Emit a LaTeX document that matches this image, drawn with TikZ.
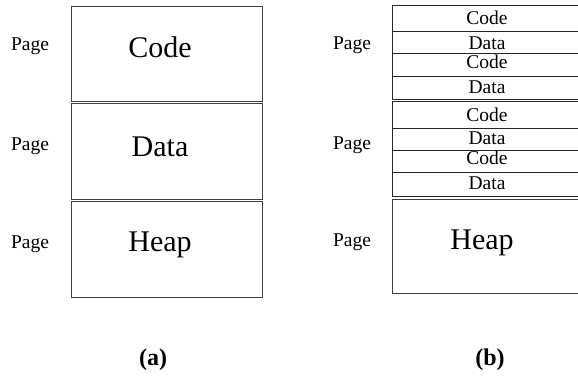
\documentclass[tikz,border=0pt]{standalone}
\usepackage{fontspec}
\setmainfont{Liberation Serif}
\tikzset{
  pagebox/.style={draw=black!75, line width=1.1pt, inner sep=0pt, anchor=north west},
  cellbox/.style={draw=black!85, line width=0.9pt, inner sep=0pt, anchor=north west},
  bigtxt/.style={font=\fontsize{30}{30}\selectfont, inner sep=0pt},
  smalltxt/.style={font=\fontsize{19.5}{19.5}\selectfont, inner sep=0pt},
  pagetxt/.style={font=\fontsize{19.5}{19.5}\selectfont, inner sep=0pt},
  captxt/.style={font=\fontsize{24}{24}\selectfont\bfseries, inner sep=0pt},
}
\begin{document}
\begin{tikzpicture}[x=1pt, y=-1pt]
\useasboundingbox (0,0) rectangle (578,381);
\clip (0,0) rectangle (578,381);
% (a)
\node[pagebox, minimum width=191pt, minimum height=95pt] (a1) at (71,6) {};
\node[pagebox, minimum width=191pt, minimum height=96pt] (a2) at (71,103) {};
\node[pagebox, minimum width=191pt, minimum height=96pt] (a3) at (71,201) {};
\node[bigtxt] (ta1) at (160,47) {Code};
\node[bigtxt] (ta2) at (160,147) {Data};
\node[bigtxt] (ta3) at (160,245) {Heap};
\node[pagetxt] (pa1) at (30,46) {Page};
\node[pagetxt] (pa2) at (30,146) {Page};
\node[pagetxt] (pa3) at (30,244) {Page};
% (b)
\node[cellbox, minimum width=190pt, minimum height=25.7pt] (b1) at (392,5) {};
\node[cellbox, minimum width=190pt, minimum height=22.6pt] (b2) at (392,30.7) {};
\node[cellbox, minimum width=190pt, minimum height=22.7pt] (b3) at (392,53.3) {};
\node[cellbox, minimum width=190pt, minimum height=23pt] (b4) at (392,76) {};
\node[cellbox, minimum width=190pt, minimum height=27.3pt] (b5) at (392,101) {};
\node[cellbox, minimum width=190pt, minimum height=21.4pt] (b6) at (392,128.3) {};
\node[cellbox, minimum width=190pt, minimum height=22.6pt] (b7) at (392,149.7) {};
\node[cellbox, minimum width=190pt, minimum height=23.4pt] (b8) at (392,172.3) {};
\node[pagebox, minimum width=190pt, minimum height=94.3pt] (b9) at (392,199) {};
\node[smalltxt] (tb1) at (487,18) {Code};
\node[smalltxt] (tb2) at (487,43) {Data};
\node[smalltxt] (tb3) at (487,62) {Code};
\node[smalltxt] (tb4) at (487,87) {Data};
\node[smalltxt] (tb5) at (487,115) {Code};
\node[smalltxt] (tb6) at (487,138) {Data};
\node[smalltxt] (tb7) at (487,158) {Code};
\node[smalltxt] (tb8) at (487,183) {Data};
\node[bigtxt] (tb9) at (482,243) {Heap};
\node[pagetxt] (pb1) at (352,45) {Page};
\node[pagetxt] (pb2) at (352,145) {Page};
\node[pagetxt] (pb3) at (352,242) {Page};
% captions
\node[captxt] (capa) at (153,360) {(a)};
\node[captxt] (capb) at (490,360) {(b)};
\end{tikzpicture}
\end{document}
